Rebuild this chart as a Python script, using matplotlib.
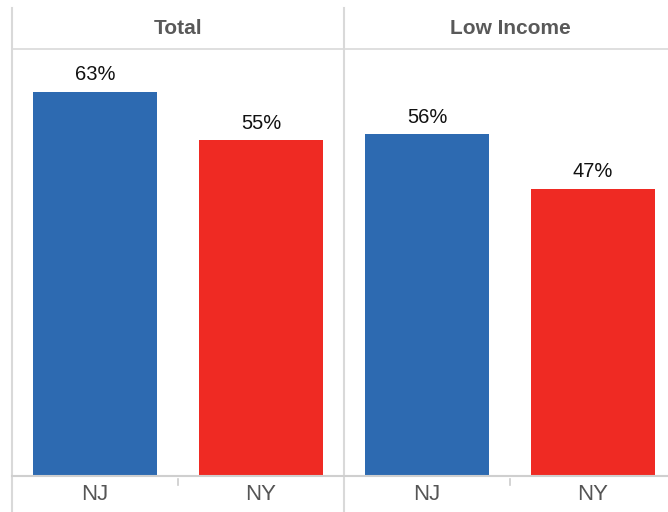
import matplotlib
matplotlib.use("Agg")
import matplotlib.pyplot as plt
from matplotlib.lines import Line2D

plt.rcParams['font.family'] = ['Liberation Sans', 'DejaVu Sans']

panels = ["Total", "Low Income"]
categories = ["NJ", "NY"]
values = {"Total": [63, 55], "Low Income": [56, 47]}
colors = ["#2D6AB1", "#EF2A23"]

W, H = 668, 512
fig = plt.figure(figsize=(W / 100, H / 100), dpi=100)

def fx(px):
    return px / W

def fy(py):
    return 1 - py / H

panel_left = [12, 344]
panel_w = 332
top, bottom = 49, 475
grid_c = "#d9d9d9"

for i, name in enumerate(panels):
    l = panel_left[i]
    ax = fig.add_axes([fx(l), fy(bottom), panel_w / W, (bottom - top) / H])
    x = range(len(categories))
    bars = ax.bar(x, values[name], width=0.75, color=colors)
    ax.set_xlim(-0.5, 1.5)
    ax.set_ylim(0, 70)
    for spine in ax.spines.values():
        spine.set_visible(False)
    ax.set_xticks([])
    ax.set_yticks([])
    for xi, v in zip(x, values[name]):
        ax.annotate(f"{v}%", (xi, v), xytext=(0, 5.5), textcoords="offset points",
                    ha="center", va="bottom", fontsize=14.5, color="#111111")
    # header
    fig.text(fx(l + panel_w / 2), fy(28), name, ha="center", va="center",
             fontsize=15, fontweight="bold", color="#595959")
    # category labels
    for xi, c in zip(x, categories):
        xpix = l + panel_w * (xi + 0.5) / 2
        fig.text(fx(xpix), fy(495), c, ha="center", va="center",
                 fontsize=16, color="#555555")
    # small tick between categories
    tx = l + panel_w / 2
    fig.add_artist(Line2D([fx(tx), fx(tx)], [fy(479), fy(485)], color="#cccccc", lw=1.2))

# frame lines
for xl in panel_left:
    fig.add_artist(Line2D([fx(xl), fx(xl)], [fy(8), fy(474)], color=grid_c, lw=1.5))
    fig.add_artist(Line2D([fx(xl), fx(xl)], [fy(478), fy(512)], color=grid_c, lw=1.5))
fig.add_artist(Line2D([fx(12), fx(668)], [fy(49), fy(49)], color=grid_c, lw=1.2))
fig.add_artist(Line2D([fx(12), fx(668)], [fy(475.5), fy(475.5)], color="#cfcfcf", lw=1.5))

fig.savefig("out.png", dpi=100)
